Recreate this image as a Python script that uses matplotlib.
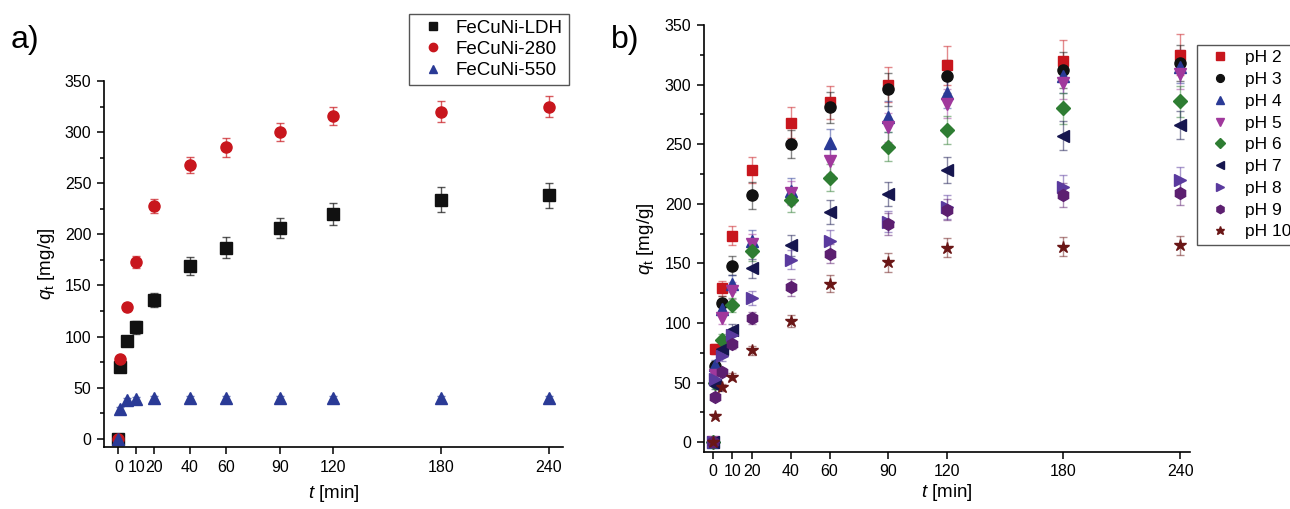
import matplotlib.pyplot as plt
from matplotlib.ticker import MultipleLocator

plt.rcParams['font.family'] = ['Liberation Sans', 'DejaVu Sans']
plt.rcParams['mathtext.fontset'] = 'custom'
plt.rcParams['mathtext.it'] = 'Liberation Sans:italic'
plt.rcParams['mathtext.rm'] = 'Liberation Sans'

# time points [min]
t = [0, 1, 5, 10, 20, 40, 60, 90, 120, 180, 240]
t_ticks = [0, 10, 20, 40, 60, 90, 120, 180, 240]

# panel a) adsorbents
ldh = [0, 70, 96, 109, 136, 169, 187, 206, 220, 234, 238]
ldh_err = [2, 4, 5, 6, 7, 9, 10, 10, 11, 12, 12]
c280 = [0, 78, 129, 173, 228, 268, 285, 300, 316, 320, 325]
c280_err = [2, 3, 4, 6, 7, 8, 9, 9, 9, 10, 10]
c550 = [0, 29, 38, 39, 40, 40, 40, 40, 40, 40, 40]
c550_err = [1, 2, 2, 2, 2, 2, 2, 2, 2, 2, 2]

a_labels = ['FeCuNi-LDH', 'FeCuNi-280', 'FeCuNi-550']
a_values = [ldh, c280, c550]
a_errors = [ldh_err, c280_err, c550_err]
a_colors = ['#111111', '#C8161D', '#2A3A96']
a_markers = ['s', 'o', '^']

# panel b) pH series
ph_labels = ['pH 2', 'pH 3', 'pH 4', 'pH 5', 'pH 6', 'pH 7', 'pH 8', 'pH 9', 'pH 10']
ph2 = [0, 78, 129, 173, 228, 268, 285, 300, 316, 320, 325]
ph3 = [0, 64, 117, 148, 207, 250, 281, 296, 307, 312, 318]
ph4 = [0, 65, 112, 133, 169, 211, 251, 273, 293, 307, 315]
ph5 = [0, 56, 104, 127, 166, 209, 236, 264, 284, 301, 309]
ph6 = [0, 50, 86, 115, 160, 203, 222, 248, 262, 280, 286]
ph7 = [0, 48, 78, 94, 146, 165, 193, 208, 228, 257, 266]
ph8 = [0, 53, 72, 90, 121, 153, 169, 185, 197, 214, 220]
ph9 = [0, 38, 59, 82, 104, 130, 158, 183, 195, 207, 209]
ph10 = [0, 22, 46, 55, 77, 102, 133, 151, 163, 164, 165]
ph_values = [ph2, ph3, ph4, ph5, ph6, ph7, ph8, ph9, ph10]

ph2_err = [1, 4, 6, 8, 11, 13, 14, 15, 16, 17, 17]
ph3_err = [1, 4, 6, 8, 11, 12, 13, 14, 14, 15, 15]
ph4_err = [1, 4, 5, 7, 9, 11, 12, 13, 13, 14, 14]
ph5_err = [1, 3, 5, 7, 9, 10, 11, 12, 12, 13, 13]
ph6_err = [1, 3, 5, 6, 8, 10, 11, 12, 12, 13, 13]
ph7_err = [1, 3, 4, 5, 8, 9, 10, 10, 11, 12, 12]
ph8_err = [1, 3, 4, 5, 6, 8, 9, 9, 10, 10, 11]
ph9_err = [1, 2, 3, 4, 5, 7, 8, 9, 9, 10, 10]
ph10_err = [1, 2, 3, 3, 4, 5, 7, 8, 8, 8, 8]
ph_errors = [ph2_err, ph3_err, ph4_err, ph5_err, ph6_err, ph7_err, ph8_err, ph9_err, ph10_err]

ph_colors = ['#C8161D', '#111111', '#2A3A96', '#A0389C', '#2E7D32',
             '#16164F', '#5A3A9E', '#5C1F70', '#6A1616']
ph_markers = ['s', 'o', '^', 'v', 'D', '<', '>', 'h', '*']
ph_sizes = [7.5, 8, 8.5, 8.5, 7, 8.5, 8.5, 8.5, 9]


def style_axis(ax, xpad):
    ax.spines['top'].set_visible(False)
    ax.spines['right'].set_visible(False)
    ax.spines['left'].set_linewidth(1.2)
    ax.spines['bottom'].set_linewidth(1.2)
    ax.set_xlim(-8, 248)
    ax.set_ylim(-8, 350)
    ax.set_xticks(t_ticks)
    ax.set_xticklabels([str(v) for v in t_ticks])
    ax.yaxis.set_major_locator(MultipleLocator(50))
    ax.yaxis.set_minor_locator(MultipleLocator(25))
    ax.tick_params(direction='out', labelsize=11.5, length=5, width=1.1, pad=4)
    ax.tick_params(which='minor', length=3, width=1.1)
    ax.set_xlabel('$t$ [min]', fontsize=13.5, labelpad=xpad)
    ax.set_ylabel('$q_{\\mathrm{t}}$ [mg/g]', fontsize=13.5, labelpad=6)


fig = plt.figure(figsize=(12.9, 5.09), dpi=100)
ax1 = fig.add_axes([0.0806, 0.1218, 0.3558, 0.7191])
ax2 = fig.add_axes([0.5457, 0.1126, 0.3768, 0.8384])

handles_a = []
for vals, errs, col, mk, lab in zip(a_values, a_errors, a_colors, a_markers, a_labels):
    cont = ax1.errorbar(t, vals, yerr=errs, fmt=mk, color=col, ms=8,
                        mec=col, ecolor=col, elinewidth=1, capsize=3,
                        capthick=1, label=lab)
    cont[2][0].set_alpha(0.7)
    for cap in cont[1]:
        cap.set_alpha(0.7)
    handles_a.append(cont[0])
style_axis(ax1, 6)

handles_b = []
for vals, errs, col, mk, ms, lab in zip(ph_values, ph_errors, ph_colors, ph_markers,
                                        ph_sizes, ph_labels):
    cont = ax2.errorbar(t, vals, yerr=errs, fmt=mk, color=col, ms=ms,
                        mec=col, ecolor=col, elinewidth=1, capsize=3,
                        capthick=1, label=lab)
    cont[2][0].set_alpha(0.5)
    for cap in cont[1]:
        cap.set_alpha(0.5)
    handles_b.append(cont[0])
style_axis(ax2, 2)
ax2.set_xlim(-4.5, 245)

fig.legend(handles_a, a_labels, loc='upper left', bbox_to_anchor=(409 / 1290, 1 - 14 / 509),
           borderaxespad=0, fontsize=13.5, frameon=True, fancybox=False,
           edgecolor='#555555', framealpha=1, borderpad=0.3, handletextpad=0.2,
           labelspacing=0.22, handlelength=2.0, markerscale=0.75)
fig.legend(handles_b, ph_labels, loc='upper left', bbox_to_anchor=(1197 / 1290, 1 - 45 / 509),
           borderaxespad=0, fontsize=12.5, frameon=True, fancybox=False,
           edgecolor='#555555', framealpha=1, borderpad=0.3, handletextpad=0.44,
           labelspacing=0.38, handlelength=2.0, markerscale=0.7)

fig.text(0.008, 0.905, 'a)', fontsize=23)
fig.text(0.474, 0.905, 'b)', fontsize=23)

fig.savefig('out.png', dpi=100)
